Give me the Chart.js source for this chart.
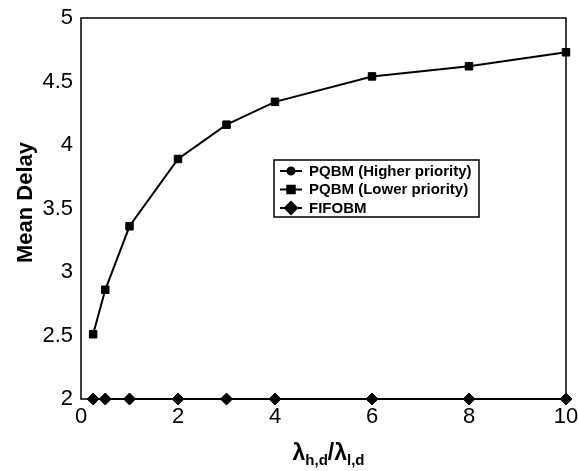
<!DOCTYPE html>
<html>
<head>
<meta charset="utf-8">
<script src="https://cdn.jsdelivr.net/npm/chart.js@4/dist/chart.umd.min.js"></script>
<style>
  html, body { margin: 0; padding: 0; background: #fff; }
  #wrap { width: 578px; height: 471px; }
</style>
</head>
<body>
<div id="wrap"><canvas id="c" width="578" height="471"></canvas></div>
<script>
// ---- data ----
const xValues = [0.25, 0.5, 1, 2, 3, 4, 6, 8, 10];
const higherPriority = [2, 2, 2, 2, 2, 2, 2, 2, 2];
const lowerPriority = [2.51, 2.86, 3.36, 3.89, 4.16, 4.34, 4.54, 4.62, 4.73];
const fifobm = [2, 2, 2, 2, 2, 2, 2, 2, 2];
const seriesLabels = ['PQBM (Higher priority)', 'PQBM (Lower priority)', 'FIFOBM'];
const yTitle = 'Mean Delay';
const xTitleParts = [['λ', 'h,d'], ['/', ''], ['λ', 'l,d']];

const FONT = '"Liberation Sans", Arial, Helvetica, sans-serif';

function pts(ys) { return xValues.map((x, i) => ({ x: x, y: ys[i] })); }

const decor = {
  id: 'decor',
  beforeDatasetsDraw(chart) {
    const { ctx, chartArea: a } = chart;
    ctx.save();
    ctx.strokeStyle = '#000';
    ctx.lineWidth = 1.5;
    ctx.strokeRect(a.left, a.top, a.right - a.left, a.bottom - a.top);
    ctx.restore();
  },
  afterDraw(chart) {
    const { ctx, chartArea: a } = chart;
    ctx.save();
    ctx.fillStyle = '#000';
    // y title
    ctx.save();
    ctx.translate(26, (a.top + a.bottom) / 2 - 6);
    ctx.rotate(-Math.PI / 2);
    ctx.font = 'bold 22px ' + FONT;
    ctx.textAlign = 'center';
    ctx.textBaseline = 'middle';
    ctx.fillText(yTitle, 0, 0);
    ctx.restore();
    // x title with subscripts
    const big = 'bold 23px ' + FONT, small = 'bold 15px ' + FONT;
    let total = 0;
    xTitleParts.forEach(([m, s]) => {
      ctx.font = big; total += ctx.measureText(m).width;
      ctx.font = small; total += ctx.measureText(s).width;
    });
    let x = (a.left + a.right) / 2 + 5 - total / 2;
    const base = 460;
    ctx.textAlign = 'left';
    ctx.textBaseline = 'alphabetic';
    xTitleParts.forEach(([m, s]) => {
      ctx.font = big; ctx.fillText(m, x, base); x += ctx.measureText(m).width;
      ctx.font = small; ctx.fillText(s, x, base + 5); x += ctx.measureText(s).width;
    });
    // legend
    const lx = 274, ly = 160, lw = 205, lh = 57;
    ctx.fillStyle = '#fff';
    ctx.fillRect(lx, ly, lw, lh);
    ctx.strokeStyle = '#000';
    ctx.lineWidth = 1.5;
    ctx.strokeRect(lx, ly, lw, lh);
    ctx.fillStyle = '#000';
    ctx.font = 'bold 15px ' + FONT;
    ctx.textBaseline = 'middle';
    chart.data.datasets.forEach((ds, i) => {
      const yy = ly + 11 + i * 18.5;
      ctx.beginPath();
      ctx.lineWidth = 2;
      ctx.moveTo(lx + 6, yy);
      ctx.lineTo(lx + 28, yy);
      ctx.stroke();
      Chart.helpers.drawPoint(ctx, { pointStyle: ds.pointStyle, radius: ds.pointRadius, borderWidth: 1 }, lx + 17, yy);
      ctx.fillStyle = '#000';
      ctx.fillText(ds.label, lx + 35, yy + 0.5);
    });
    ctx.restore();
  }
};

const common = {
  borderColor: '#000',
  backgroundColor: '#000',
  pointBorderColor: '#000',
  pointBackgroundColor: '#000',
  borderWidth: 2,
  pointBorderWidth: 1,
  pointHoverRadius: 5,
  clip: false,
  tension: 0
};

new Chart(document.getElementById('c'), {
  type: 'line',
  data: {
    datasets: [
      Object.assign({ label: seriesLabels[0], data: pts(higherPriority), pointStyle: 'circle', pointRadius: 3.5 }, common),
      Object.assign({ label: seriesLabels[1], data: pts(lowerPriority), pointStyle: 'rect', pointRadius: 5.3 }, common),
      Object.assign({ label: seriesLabels[2], data: pts(fifobm), pointStyle: 'rectRot', pointRadius: 6 }, common)
    ]
  },
  options: {
    responsive: false,
    animation: false,
    devicePixelRatio: 1,
    layout: { padding: { top: 18, right: 12, left: 0, bottom: 0 } },
    plugins: { legend: { display: false }, tooltip: { enabled: false } },
    scales: {
      x: {
        type: 'linear', min: 0, max: 10,
        border: { display: false },
        grid: { display: false, drawTicks: false },
        ticks: { stepSize: 2, color: '#000', font: { family: FONT, size: 22 }, padding: 5, maxRotation: 0,
                 callback: v => String(v) },
        afterFit(s) { s.height = 72; s.paddingLeft = 0; s.paddingRight = 0; }
      },
      y: {
        min: 2, max: 5,
        border: { display: false },
        grid: { display: false, drawTicks: false },
        ticks: { stepSize: 0.5, color: '#000', font: { family: FONT, size: 22 }, padding: 8,
                 callback: v => String(Number(v)) },
        afterFit(s) { s.width = 81; s.paddingTop = 0; s.paddingBottom = 0; }
      }
    }
  },
  plugins: [decor]
});
</script>
</body>
</html>
